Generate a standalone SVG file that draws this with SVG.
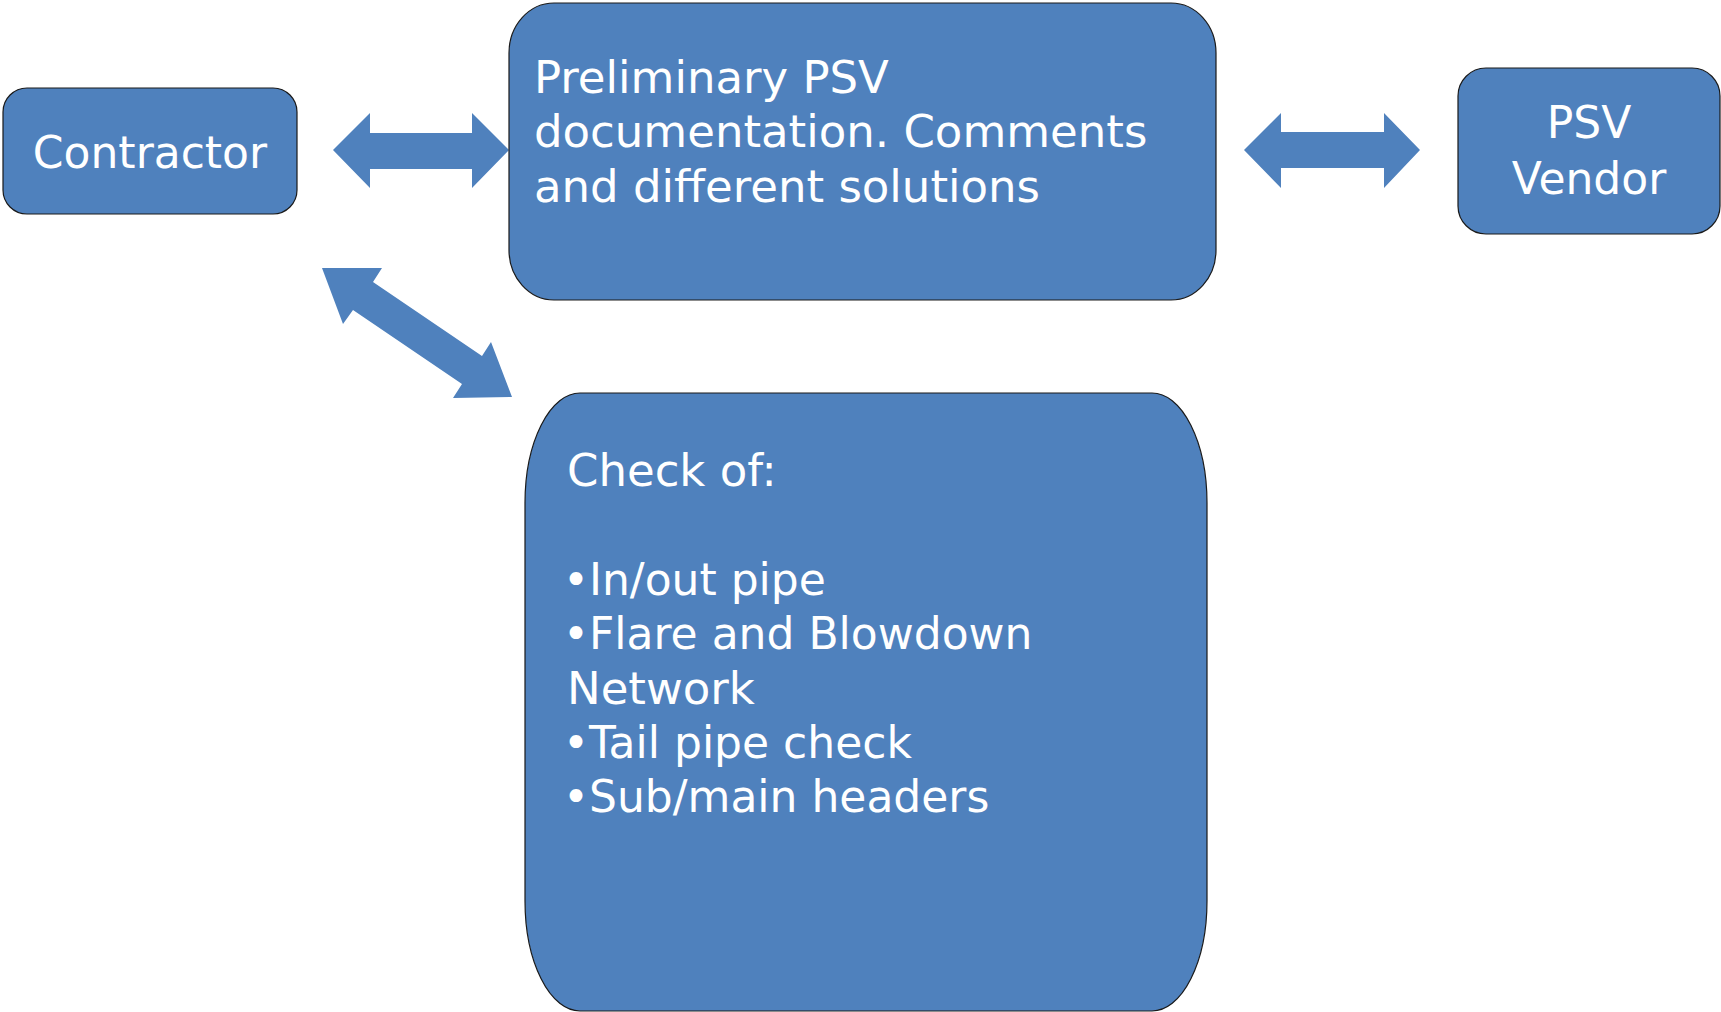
<svg xmlns="http://www.w3.org/2000/svg" width="1721" height="1012" viewBox="0 0 1721 1012">
<style>
.box{fill:#4F81BD;stroke:#1a1a1a;stroke-width:1.2}
.arr{fill:#4F81BD;stroke:none}
text{font-family:"DejaVu Sans","Liberation Sans",sans-serif;font-size:45px;fill:#ffffff}
.c{text-anchor:middle}
.b{font-size:44px}
</style>
<rect width="1721" height="1012" fill="#ffffff"/>
<g id="connectors">
<polygon class="arr" points="333,150 370,113 370,133 472,133 472,113 509,150 472,188 472,169 370,169 370,188"/>
<polygon class="arr" points="1244,150 1281,113 1281,132 1384,132 1384,113 1420,150 1384,188 1384,168 1281,168 1281,188"/>
<polygon class="arr" points="322,268 382,268 373,282 482,356 491,342 512,397 453,398 462,384 353,310 343,324"/>
</g>
<g id="contractor">
<rect class="box" x="3" y="88" width="294" height="126" rx="24" ry="24"/>
<text class="c" x="150" y="168" style="font-size:44px">Contractor</text>
</g>
<g id="preliminary">
<rect class="box" x="509" y="3" width="707" height="297" rx="45" ry="50"/>
<text x="534" y="93">Preliminary PSV</text>
<text x="534" y="147">documentation. Comments</text>
<text x="534" y="202">and different solutions</text>
</g>
<g id="vendor">
<rect class="box" x="1458" y="68" width="262" height="166" rx="28" ry="28"/>
<text class="c" x="1589" y="138" style="font-size:44px">PSV</text>
<text class="c" x="1589" y="194" style="font-size:44px">Vendor</text>
</g>
<g id="check">
<rect class="box" x="525" y="393" width="682" height="618" rx="55" ry="110"/>
<text x="567" y="486">Check of:</text>
<text class="b" x="563" y="595">•In/out pipe</text>
<text class="b" x="563" y="649">•Flare and Blowdown</text>
<text x="567" y="704">Network</text>
<text class="b" x="563" y="758">•Tail pipe check</text>
<text class="b" x="563" y="812">•Sub/main headers</text>
</g>
</svg>
